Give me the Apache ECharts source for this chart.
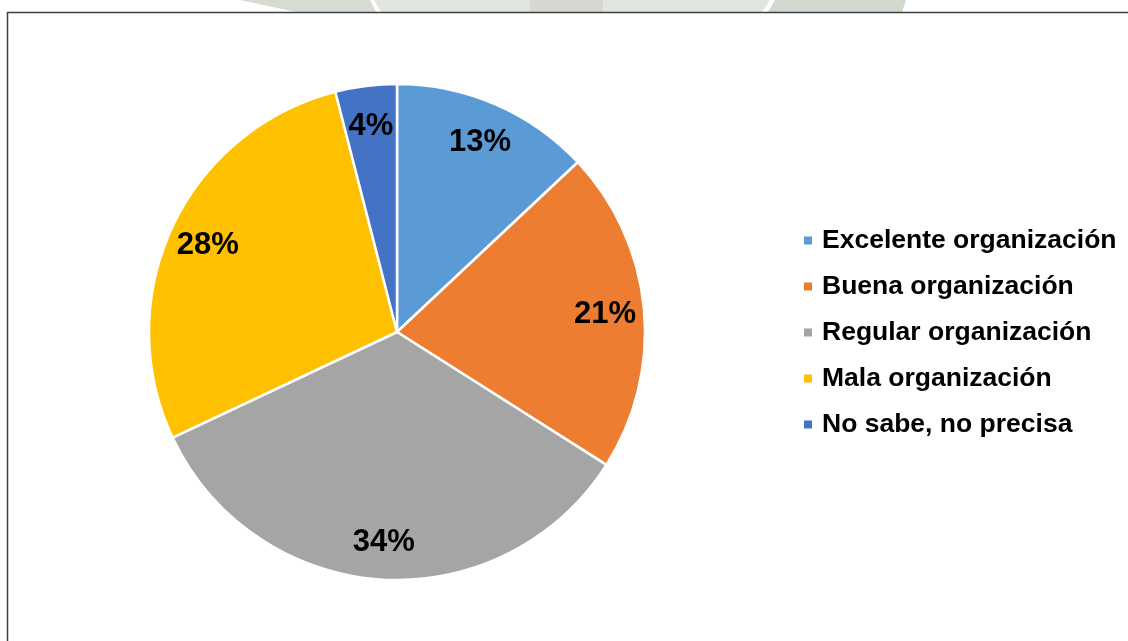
<!DOCTYPE html>
<html>
<head>
<meta charset="utf-8">
<style>
  html, body { margin: 0; padding: 0; background: #ffffff; }
  #chart { width: 1128px; height: 641px; }
</style>
<script src="https://cdn.jsdelivr.net/npm/echarts@6/dist/echarts.min.js"></script>
</head>
<body>
<div id="chart"></div>
<script>
// Survey answers and their shares (%)
const categories = [
  'Excelente organización',
  'Buena organización',
  'Regular organización',
  'Mala organización',
  'No sabe, no precisa'
];
const shares = [13, 21, 34, 28, 4];
const colors = ['#5B9BD5', '#ED7D31', '#A5A5A5', '#FFC000', '#4472C4'];

const FONT = '"Liberation Sans", Arial, Helvetica, sans-serif';

const pieData = categories.map((name, i) => ({
  name: name,
  value: shares[i],
  itemStyle: { color: colors[i] }
}));

const chart = echarts.init(document.getElementById('chart'), null, { renderer: 'canvas' });

chart.setOption({
  backgroundColor: '#ffffff',
  animation: false,
  legend: {
    orient: 'vertical',
    left: 797,
    top: 222,
    icon: 'rect',
    itemWidth: 10,
    itemHeight: 10,
    itemGap: 19,
    selectedMode: false,
    data: categories,
    textStyle: {
      fontFamily: FONT,
      fontWeight: 'bold',
      fontSize: 26.5,
      lineHeight: 26,
      color: '#000000',
      padding: [0, 0, 0, 4]
    }
  },
  graphic: [
    // faint watermark shapes above the frame
    { type: 'polygon', silent: true, z: -1,
      shape: { points: [[240, 0], [370, 0], [376, 12], [296, 12]] },
      style: { fill: '#d6dcd2' } },
    { type: 'polygon', silent: true, z: -1,
      shape: { points: [[374, 0], [530, 0], [530, 12], [381, 12]] },
      style: { fill: '#e1e5df' } },
    { type: 'polygon', silent: true, z: -1,
      shape: { points: [[530, 0], [603, 0], [603, 12], [530, 12]] },
      style: { fill: '#d4d8d1' } },
    { type: 'polygon', silent: true, z: -1,
      shape: { points: [[603, 0], [770, 0], [762, 12], [603, 12]] },
      style: { fill: '#e1e5df' } },
    { type: 'polygon', silent: true, z: -1,
      shape: { points: [[775, 0], [906, 0], [902, 12], [768, 12]] },
      style: { fill: '#d1d8cd' } },
    // chart frame
    { type: 'line', silent: true,
      shape: { x1: 7, y1: 12.5, x2: 1128, y2: 12.5 },
      style: { stroke: '#3f3f3f', lineWidth: 1.5 } },
    { type: 'line', silent: true,
      shape: { x1: 7.5, y1: 12, x2: 7.5, y2: 641 },
      style: { stroke: '#3f3f3f', lineWidth: 1.5 } }
  ],
  series: [
    {
      type: 'pie',
      center: [397, 332],
      radius: [0, 248],
      startAngle: 90,
      clockwise: true,
      silent: true,
      data: pieData,
      itemStyle: { borderColor: '#ffffff', borderWidth: 2.5 },
      label: { show: false },
      labelLine: { show: false }
    },
    {
      // label ring: places the percentages near the outer edge of each slice
      type: 'pie',
      center: [397, 332],
      radius: [164, 248],
      startAngle: 90,
      clockwise: true,
      silent: true,
      data: categories.map((name, i) => ({ name: name, value: shares[i] })),
      itemStyle: { color: 'rgba(0,0,0,0)', borderWidth: 0 },
      label: {
        show: true,
        position: 'inside',
        formatter: '{c}%',
        offset: [0, 2],
        fontFamily: FONT,
        fontWeight: 'bold',
        fontSize: 31,
        color: '#000000'
      },
      labelLine: { show: false }
    }
  ]
});
</script>
</body>
</html>
